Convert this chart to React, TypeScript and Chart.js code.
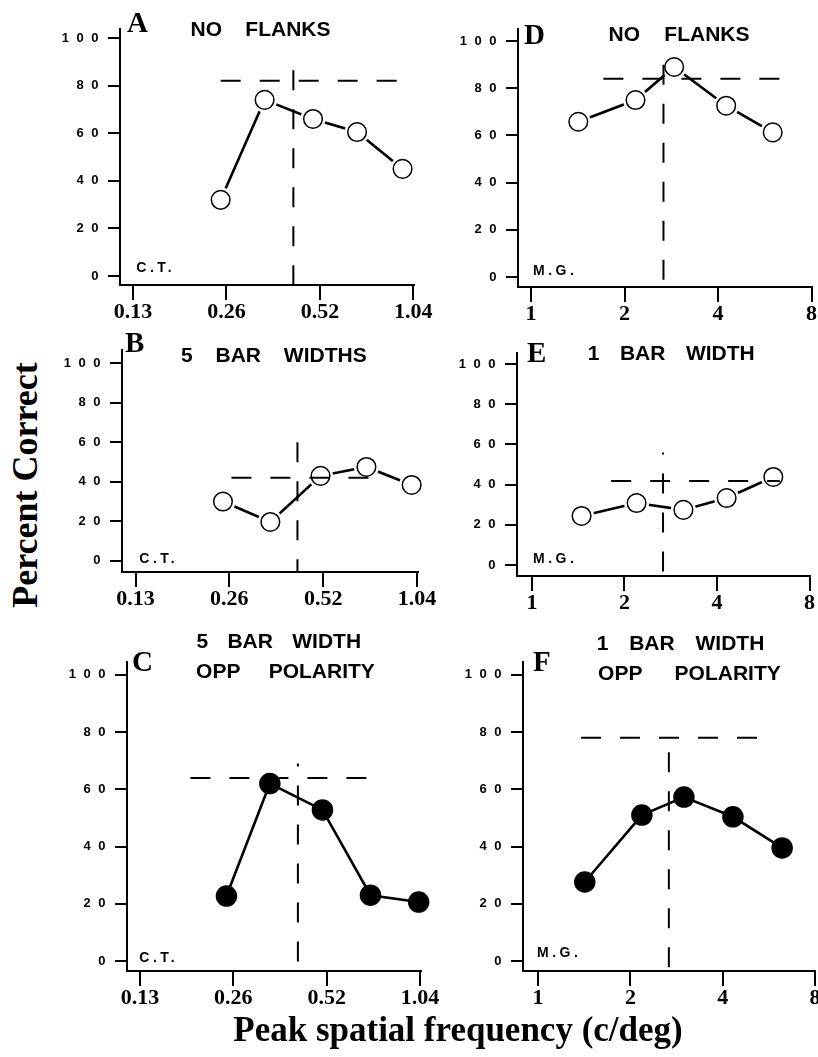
import React, { useEffect, useRef } from "react";
import { Chart, registerables } from "chart.js";

Chart.register(...registerables);

// ---------- axis ticks ----------
const pctTicks = [0, 20, 40, 60, 80, 100];
const ctFreqTicks = [0.13, 0.26, 0.52, 1.04];
const ctFreqLabels = ["0.13", "0.26", "0.52", "1.04"];
const mgFreqTicks = [1, 2, 4, 8];
const mgFreqLabels = ["1", "2", "4", "8"];

// ---------- Panel A: C.T., no flanks ----------
const freqA = [0.249, 0.345, 0.494, 0.685, 0.96];
const pctA = [32, 74, 66, 60.5, 45];
const threshSpanA = [0.249, 1.0];
const threshLevelA = 82;
const peakFreqA = 0.427;
const peakTopA = 86.5;

// ---------- Panel B: C.T., 5 bar widths ----------
const freqB = [0.248, 0.352, 0.51, 0.716, 1.0];
const pctB = [30, 19.7, 43, 47.5, 38.4];
const threshSpanB = [0.264, 0.73];
const threshLevelB = 42;
const peakFreqB = 0.43;
const peakTopB = 60;

// ---------- Panel C: C.T., 5 bar width, opposite polarity ----------
const freqC = [0.247, 0.341, 0.504, 0.72, 1.03];
const pctC = [22.7, 62, 52.8, 23, 20.6];
const threshSpanC = [0.189, 0.72];
const threshLevelC = 64;
const peakFreqC = 0.42;
const peakTopC = 69;

// ---------- Panel D: M.G., no flanks ----------
const freqD = [1.42, 2.17, 2.89, 4.25, 6.0];
const pctD = [65.8, 75, 89, 72.6, 61.3];
const threshSpanD = [1.71, 6.46];
const threshLevelD = 84;
const peakFreqD = 2.67;
const peakTopD = 90;

// ---------- Panel E: M.G., 1 bar width ----------
const freqE = [1.45, 2.19, 3.11, 4.3, 6.1];
const pctE = [24.4, 30.8, 27.4, 33.3, 43.8];
const threshSpanE = [1.81, 6.4];
const threshLevelE = 41.8;
const peakFreqE = 2.67;
const peakTopE = 56;

// ---------- Panel F: M.G., 1 bar width, opposite polarity ----------
const freqF = [1.42, 2.18, 2.99, 4.32, 6.25];
const pctF = [27.6, 51, 57.3, 50.4, 39.5];
const threshSpanF = [1.38, 5.34];
const threshLevelF = 78;
const peakFreqF = 2.67;
const peakTopF = 73;

const SANS = '"Liberation Sans", Arial, sans-serif';
const SERIF = '"Liberation Serif", "Times New Roman", serif';

const Y_W = 64; // width reserved for the y scale
const X_H = 40; // height reserved for the x scale
const PAD_TOP = 15;

type Panel = {
  id: string;
  freq: number[];
  pct: number[];
  span: number[];
  level: number;
  peak: number;
  peakTop: number;
  filled: boolean;
  xTicks: number[];
  xLabels: string[];
  xMin: number;
  xMax: number;
  yMin: number;
  yMax: number;
  area: number[]; // left, top, right, bottom of plot area (page px)
  padRight: number;
  peakDashOffset: number;
};

const panels: Panel[] = [
  {
    id: "A", freq: freqA, pct: pctA, span: threshSpanA, level: threshLevelA,
    peak: peakFreqA, peakTop: peakTopA, filled: false,
    xTicks: ctFreqTicks, xLabels: ctFreqLabels, xMin: 0.118, xMax: 1.045,
    yMin: -3.8, yMax: 103.8, area: [120, 29, 414, 285], padRight: 25, peakDashOffset: 0,
  },
  {
    id: "B", freq: freqB, pct: pctB, span: threshSpanB, level: threshLevelB,
    peak: peakFreqB, peakTop: peakTopB, filled: false,
    xTicks: ctFreqTicks, xLabels: ctFreqLabels, xMin: 0.1176, xMax: 1.048,
    yMin: -5.6, yMax: 106.6, area: [122, 350, 418, 572], padRight: 25, peakDashOffset: 0,
  },
  {
    id: "C", freq: freqC, pct: pctC, span: threshSpanC, level: threshLevelC,
    peak: peakFreqC, peakTop: peakTopC, filled: true,
    xTicks: ctFreqTicks, xLabels: ctFreqLabels, xMin: 0.118, xMax: 1.048,
    yMin: -3.5, yMax: 104.5, area: [127, 662, 421, 971], padRight: 25, peakDashOffset: 17,
  },
  {
    id: "D", freq: freqD, pct: pctD, span: threshSpanD, level: threshLevelD,
    peak: peakFreqD, peakTop: peakTopD, filled: false,
    xTicks: mgFreqTicks, xLabels: mgFreqLabels, xMin: 0.908, xMax: 8.0,
    yMin: -4.2, yMax: 105.1, area: [518, 29, 812, 287], padRight: 12, peakDashOffset: 0,
  },
  {
    id: "E", freq: freqE, pct: pctE, span: threshSpanE, level: threshLevelE,
    peak: peakFreqE, peakTop: peakTopE, filled: false,
    xTicks: mgFreqTicks, xLabels: mgFreqLabels, xMin: 0.894, xMax: 8.0,
    yMin: -5.5, yMax: 105.5, area: [517, 353, 810, 576], padRight: 12, peakDashOffset: 18,
  },
  {
    id: "F", freq: freqF, pct: pctF, span: threshSpanF, level: threshLevelF,
    peak: peakFreqF, peakTop: peakTopF, filled: true,
    xTicks: mgFreqTicks, xLabels: mgFreqLabels, xMin: 0.893, xMax: 8.0,
    yMin: -3.5, yMax: 104.5, area: [523, 662, 815, 971], padRight: 12, peakDashOffset: 0,
  },
];

function boxOf(p: Panel) {
  const [l, t, r, b] = p.area;
  const left = l - Y_W;
  const top = t - PAD_TOP;
  return { left, top, width: r - left + p.padRight, height: b - top + X_H };
}

const spacedYLabels = {
  id: "spacedYLabels",
  beforeDraw(chart: any) {
    const s: any = chart.scales.y;
    if (!s || s.__spaced) return;
    const orig = s.drawLabels.bind(s);
    s.drawLabels = (area: any) => {
      const ctx: any = chart.ctx;
      ctx.letterSpacing = "7.5px";
      orig(area);
      ctx.letterSpacing = "0px";
    };
    s.__spaced = true;
  },
};

function makeChart(canvas: HTMLCanvasElement, p: Panel) {
  const pts = p.freq.map((f, i) => ({ x: f, y: p.pct[i] }));
  const datasets: any[] = [
    {
      // horizontal dashed reference
      data: [{ x: p.span[0], y: p.level }, { x: p.span[1], y: p.level }],
      borderColor: "#000", borderWidth: 2, borderDash: [20, 19],
      pointRadius: 0, order: 0, clip: false,
    },
    {
      // vertical dashed reference
      data: [{ x: p.peak, y: p.peakTop }, { x: p.peak, y: p.yMin }],
      borderColor: "#000", borderWidth: 2, borderDash: [20, 19],
      borderDashOffset: p.peakDashOffset,
      pointRadius: 0, order: 0, clip: false,
    },
    {
      // markers
      data: pts, showLine: false, pointRadius: p.filled ? 10 : 9.3,
      pointBorderWidth: 1.5, pointBorderColor: "#000",
      pointBackgroundColor: p.filled ? "#000" : "#fff", order: 1, clip: false,
    },
    {
      // data line
      data: pts, borderColor: "#000", borderWidth: 2.6, pointRadius: 0,
      order: 3, clip: false,
    },
  ];
  if (!p.filled) {
    datasets.push({
      data: pts, showLine: false, pointRadius: 12.5, pointBorderWidth: 0,
      pointBackgroundColor: "#fff", pointBorderColor: "#fff", order: 2, clip: false,
    });
  }
  return new Chart(canvas, {
    type: "line",
    data: { datasets },
    plugins: [spacedYLabels],
    options: {
      animation: false,
      responsive: false,
      events: [],
      layout: { padding: { top: PAD_TOP, right: p.padRight, left: 0, bottom: 0 } },
      plugins: { legend: { display: false }, tooltip: { enabled: false }, title: { display: false } },
      scales: {
        x: {
          type: "logarithmic",
          bounds: "data",
          min: p.xMin,
          max: p.xMax,
          afterBuildTicks: (s: any) => {
            s.ticks = p.xTicks.map((v) => ({ value: v }));
          },
          afterFit: (s: any) => {
            s.height = X_H;
          },
          grid: {
            display: true, drawOnChartArea: false, drawTicks: true,
            tickLength: 15, color: "#000", lineWidth: 2,
          },
          border: { display: true, color: "#000", width: 2 },
          ticks: {
            autoSkip: false, maxRotation: 0, minRotation: 0, padding: 1, color: "#000",
            font: { family: SERIF, weight: "bold", size: 22, lineHeight: 1 },
            callback: (v: any) => {
              const i = p.xTicks.findIndex((t) => Math.abs(t - Number(v)) < 1e-9);
              return i >= 0 ? p.xLabels[i] : "";
            },
          },
        },
        y: {
          type: "linear",
          bounds: "data",
          min: p.yMin,
          max: p.yMax,
          afterBuildTicks: (s: any) => {
            s.ticks = pctTicks.map((v) => ({ value: v }));
          },
          afterFit: (s: any) => {
            s.width = Y_W;
          },
          grid: {
            display: true, drawOnChartArea: false, drawTicks: true,
            tickLength: 12, color: "#000", lineWidth: 2,
          },
          border: { display: true, color: "#000", width: 2 },
          ticks: {
            autoSkip: false, padding: 2, color: "#000",
            font: { family: SANS, weight: "bold", size: 13 },
            callback: (v: any) => String(v),
          },
        },
      },
    } as any,
  });
}

type TextItem = { text: string; left: number; top: number; ws?: number };

const titleItems: TextItem[] = [
  { text: "NO FLANKS", left: 190.5, top: 17.8, ws: 17.5 },
  { text: "NO FLANKS", left: 608.5, top: 23.3, ws: 18.5 },
  { text: "5 BAR WIDTHS", left: 181, top: 344.3, ws: 17 },
  { text: "1 BAR WIDTH", left: 587.7, top: 342.3, ws: 14.7 },
  { text: "5 BAR WIDTH", left: 196.4, top: 630.3, ws: 13.5 },
  { text: "OPP POLARITY", left: 196.1, top: 660.3, ws: 22.8 },
  { text: "1 BAR WIDTH", left: 596.7, top: 632.3, ws: 15 },
  { text: "OPP POLARITY", left: 598.1, top: 662.3, ws: 26.7 },
];

const letterItems: TextItem[] = [
  { text: "A", left: 127, top: 8.2 },
  { text: "B", left: 125, top: 327.9 },
  { text: "C", left: 132, top: 646.9 },
  { text: "D", left: 524, top: 19.9 },
  { text: "E", left: 527, top: 337.9 },
  { text: "F", left: 533, top: 646.9 },
];

const subjectItems: TextItem[] = [
  { text: "C.T.", left: 136.3, top: 260.2 },
  { text: "C.T.", left: 139.3, top: 550.9 },
  { text: "C.T.", left: 139.3, top: 949.9 },
  { text: "M.G.", left: 533, top: 263.2 },
  { text: "M.G.", left: 533, top: 550.9 },
  { text: "M.G.", left: 537, top: 944.9 },
];

export default function App() {
  const refs = useRef<(HTMLCanvasElement | null)[]>([]);

  useEffect(() => {
    const charts = panels.map((p, i) => makeChart(refs.current[i] as HTMLCanvasElement, p));
    return () => {
      charts.forEach((c) => c.destroy());
    };
  }, []);

  return (
    <div
      style={{
        position: "absolute", left: 0, top: 0, width: 818, height: 1057,
        overflow: "hidden", background: "#fff",
      }}
    >
      {panels.map((p, i) => {
        const b = boxOf(p);
        return (
          <canvas
            key={p.id}
            ref={(el) => {
              refs.current[i] = el;
            }}
            width={b.width}
            height={b.height}
            style={{ position: "absolute", left: b.left, top: b.top, width: b.width, height: b.height }}
          />
        );
      })}
      {titleItems.map((t, i) => (
        <div
          key={"t" + i}
          style={{
            position: "absolute", left: t.left, top: t.top, font: `bold 21px ${SANS}`,
            lineHeight: "21px", whiteSpace: "pre", wordSpacing: t.ws, color: "#000",
          }}
        >
          {t.text}
        </div>
      ))}
      {letterItems.map((t, i) => (
        <div
          key={"l" + i}
          style={{
            position: "absolute", left: t.left, top: t.top, font: `bold 29px ${SERIF}`,
            lineHeight: "29px", whiteSpace: "pre", color: "#000",
          }}
        >
          {t.text}
        </div>
      ))}
      {subjectItems.map((t, i) => (
        <div
          key={"s" + i}
          style={{
            position: "absolute", left: t.left, top: t.top, font: `bold 14px ${SANS}`,
            lineHeight: "14px", whiteSpace: "pre", letterSpacing: "3.5px", color: "#000",
          }}
        >
          {t.text}
        </div>
      ))}
      <div
        style={{
          position: "absolute", left: 25, top: 485, font: `bold 36px ${SERIF}`,
          lineHeight: "36px", whiteSpace: "pre", color: "#000",
          transform: "translate(-50%, -50%) rotate(-90deg)",
        }}
      >
        Percent Correct
      </div>
      <div
        style={{
          position: "absolute", left: 458, top: 1011.7, font: `bold 35px ${SERIF}`,
          lineHeight: "35px", whiteSpace: "pre", color: "#000",
          transform: "translateX(-50%)",
        }}
      >
        Peak spatial frequency (c/deg)
      </div>
    </div>
  );
}
